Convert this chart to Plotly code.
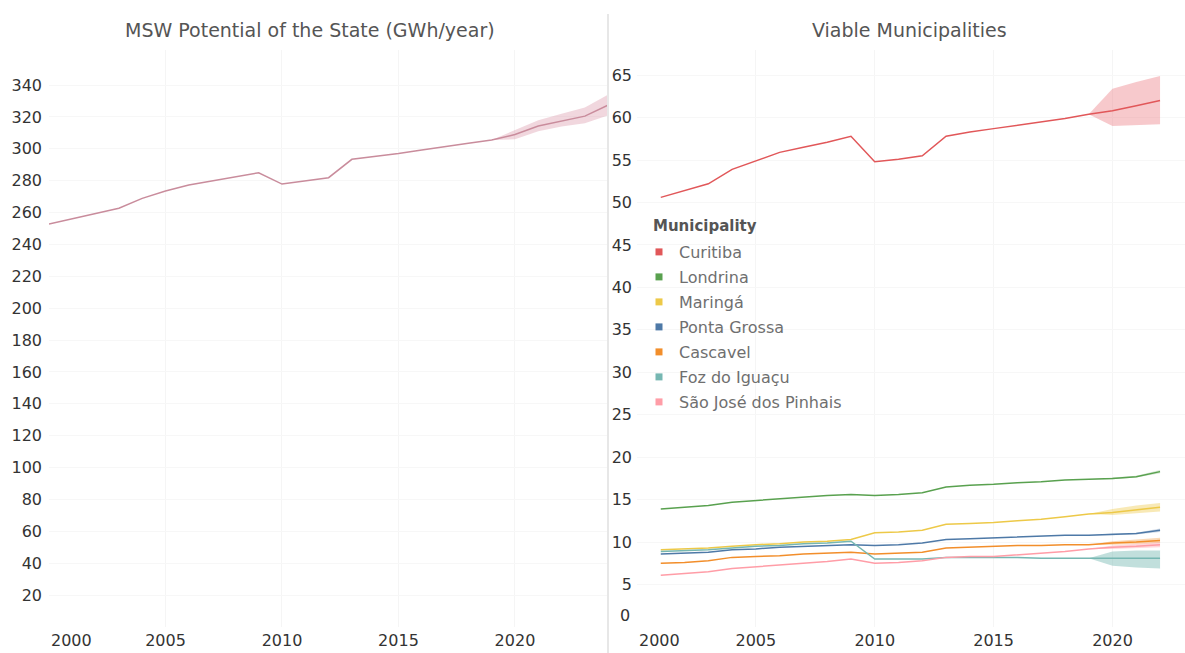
import plotly.graph_objects as go

# ---- data ----
state_years = list(range(2000, 2025))
msw_potential = [252.8, 256.0, 259.5, 262.7, 268.9, 273.5, 277.3, 280.0, 282.5, 285.0,
                 277.9, 279.9, 281.9, 293.4, 295.2, 297.0, 299.3, 301.6, 303.5, 305.5,
                 309.0, 314.3, 317.5, 320.5, 327.5]
state_band_years = list(range(2019, 2025))
state_upper = [305.5, 312.0, 318.0, 322.0, 326.0, 334.0]
state_lower = [305.5, 306.0, 311.0, 314.0, 316.0, 321.0]

mun_years = list(range(2001, 2023))
band_years = [2019, 2020, 2021, 2022]
municipalities = ["Curitiba", "Londrina", "Maringá", "Ponta Grossa", "Cascavel",
                  "Foz do Iguaçu", "São José dos Pinhais"]
curitiba = [50.6, 51.4, 52.2, 53.9, 54.9, 55.9, 56.5, 57.1, 57.8, 54.8, 55.1,
            55.5, 57.8, 58.3, 58.7, 59.1, 59.5, 59.9, 60.4, 60.8, 61.4, 62.0]
londrina = [13.9, 14.1, 14.3, 14.7, 14.9, 15.1, 15.3, 15.5, 15.6, 15.5, 15.6,
            15.8, 16.5, 16.7, 16.8, 17.0, 17.1, 17.3, 17.4, 17.5, 17.7, 18.3]
maringa = [9.1, 9.2, 9.3, 9.5, 9.7, 9.8, 10.0, 10.1, 10.3, 11.1, 11.2,
           11.4, 12.1, 12.2, 12.3, 12.5, 12.7, 13.0, 13.3, 13.5, 13.8, 14.1]
ponta_grossa = [8.6, 8.7, 8.8, 9.1, 9.2, 9.4, 9.5, 9.6, 9.7, 9.6, 9.7,
                9.9, 10.3, 10.4, 10.5, 10.6, 10.7, 10.8, 10.8, 10.9, 11.0, 11.4]
cascavel = [7.5, 7.6, 7.8, 8.2, 8.3, 8.4, 8.6, 8.7, 8.8, 8.6, 8.7,
            8.8, 9.3, 9.4, 9.5, 9.6, 9.6, 9.7, 9.7, 9.9, 10.0, 10.2]
foz = [8.9, 9.0, 9.1, 9.3, 9.5, 9.6, 9.8, 9.9, 10.1, 8.0, 8.0,
       8.0, 8.2, 8.2, 8.2, 8.2, 8.1, 8.1, 8.1, 8.1, 8.1, 8.1]
sao_jose = [6.1, 6.3, 6.5, 6.9, 7.1, 7.3, 7.5, 7.7, 8.0, 7.5, 7.6,
            7.8, 8.2, 8.3, 8.3, 8.5, 8.7, 8.9, 9.2, 9.4, 9.5, 9.7]

upper = [[60.4, 63.4, 64.2, 64.9], [17.4, 17.6, 17.8, 18.5], [13.3, 13.9, 14.3, 14.6],
         [10.8, 11.0, 11.1, 11.6], [9.7, 10.1, 10.3, 10.5], [8.1, 8.9, 9.0, 9.0],
         [9.2, 9.6, 9.8, 10.0]]
lower = [[60.4, 59.0, 59.1, 59.2], [17.4, 17.4, 17.6, 18.1], [13.3, 13.2, 13.4, 13.6],
         [10.8, 10.8, 10.9, 11.2], [9.7, 9.7, 9.8, 9.9], [8.1, 7.2, 7.0, 6.9],
         [9.2, 9.2, 9.3, 9.4]]

series = [curitiba, londrina, maringa, ponta_grossa, cascavel, foz, sao_jose]
colors = ["#e15759", "#59a14f", "#edc948", "#4e79a7", "#f28e2b", "#76b7b2", "#ff9da7"]
band_colors = ["rgba(235,120,128,0.40)", "rgba(89,161,79,0.25)", "rgba(237,201,72,0.40)",
               "rgba(78,121,167,0.25)", "rgba(242,142,43,0.35)", "rgba(118,183,178,0.45)",
               "rgba(255,157,167,0.40)"]

W, H = 1185, 653
FONT = "DejaVu Sans"

fig = go.Figure()

# left chart: state potential
fig.add_trace(go.Scatter(x=state_band_years + state_band_years[::-1],
                         y=state_upper + state_lower[::-1], fill="toself",
                         fillcolor="rgba(214,140,160,0.35)", line=dict(width=0),
                         mode="lines", showlegend=False, hoverinfo="skip",
                         xaxis="x", yaxis="y"))
fig.add_trace(go.Scatter(x=state_years, y=msw_potential, mode="lines",
                         line=dict(color="#c98c9c", width=1.5), showlegend=False,
                         xaxis="x", yaxis="y"))

# right chart: municipalities
for i, name in enumerate(municipalities):
    fig.add_trace(go.Scatter(x=band_years + band_years[::-1],
                             y=upper[i] + lower[i][::-1], fill="toself",
                             fillcolor=band_colors[i], line=dict(width=0), mode="lines",
                             showlegend=False, hoverinfo="skip", xaxis="x2", yaxis="y2"))
for i, name in enumerate(municipalities):
    fig.add_trace(go.Scatter(x=mun_years, y=series[i], mode="lines", name=name,
                             line=dict(color=colors[i], width=1.5), showlegend=False,
                             xaxis="x2", yaxis="y2"))
# legend entries (square swatches)
for i, name in enumerate(municipalities):
    fig.add_trace(go.Scatter(x=[None], y=[None], mode="markers", name=name,
                             legendgroup=name,
                             marker=dict(symbol="square", size=7, color=colors[i]),
                             xaxis="x2", yaxis="y2"))

ybot = 1 - 627 / H
ytop = 1 - 50 / H
axis_font = dict(family=FONT, size=16, color="#333333")

fig.update_layout(
    width=W, height=H, margin=dict(l=0, r=0, t=0, b=0),
    paper_bgcolor="white", plot_bgcolor="white",
    font=dict(family=FONT, color="#555555"),
    xaxis=dict(domain=[49 / W, 607 / W], range=[2000, 2023.95],
               tickvals=[2005, 2010, 2015, 2020], tickfont=axis_font,
               showgrid=True, gridcolor="#f5f5f5", zeroline=False, showline=False,
               ticks="", ticklabelstandoff=2),
    yaxis=dict(domain=[ybot, ytop], range=[0, 362],
               tickvals=list(range(20, 341, 20)), tickfont=axis_font,
               showgrid=True, gridcolor="#f7f7f7", zeroline=False, showline=False,
               ticks="", ticklabelstandoff=6),
    xaxis2=dict(domain=[637 / W, 1.0], range=[2000, 2023.05], anchor="y2",
                tickvals=[2005, 2010, 2015, 2020], tickfont=axis_font,
                showgrid=True, gridcolor="#f5f5f5", zeroline=False, showline=False,
                ticks="", ticklabelstandoff=2),
    yaxis2=dict(domain=[ybot, ytop], range=[0, 67.96], anchor="x2",
                tickvals=list(range(5, 66, 5)), tickfont=axis_font,
                showgrid=True, gridcolor="#f7f7f7", zeroline=False, showline=False,
                ticks="", ticklabelstandoff=4),
    legend=dict(x=639 / W, y=1 - 235 / H, xanchor="left", yanchor="top",
                bgcolor="rgba(0,0,0,0)", font=dict(family=FONT, size=16, color="#6f6f6f"),
                tracegroupgap=1.2, itemwidth=30),
    shapes=[dict(type="line", xref="paper", yref="paper", x0=608 / W, x1=608 / W,
                 y0=0, y1=1 - 14 / H, line=dict(color="#cfcfcf", width=1))],
    annotations=[
        dict(text="MSW Potential of the State (GWh/year)", xref="paper", yref="paper",
             x=310 / W, y=1 - 30 / H, xanchor="center", yanchor="middle", showarrow=False,
             font=dict(family=FONT, size=19, color="#555555")),
        dict(text="Viable Municipalities", xref="paper", yref="paper",
             x=909 / W, y=1 - 30 / H, xanchor="center", yanchor="middle", showarrow=False,
             font=dict(family=FONT, size=19, color="#555555")),
        dict(text="<b>Municipality</b>", xref="paper", yref="paper",
             x=651 / W, y=1 - 226 / H, xanchor="left", yanchor="middle", showarrow=False,
             font=dict(family=FONT, size=15, color="#555555")),
        # edge labels that Tableau nudges inside the pane
        dict(text="2000", xref="x", yref="paper", x=2000, y=1 - 640 / H,
             xanchor="left", yanchor="middle", showarrow=False, font=axis_font),
        dict(text="2000", xref="x2", yref="paper", x=2000, y=1 - 640 / H,
             xanchor="left", yanchor="middle", showarrow=False, font=axis_font),
        dict(text="0", xref="paper", yref="y2", x=632 / W, y=1.4,
             xanchor="right", yanchor="middle", showarrow=False, font=axis_font),
    ],
)

fig.write_html("out.html", config={"displayModeBar": False},
               post_script="document.body.style.margin='0';")
